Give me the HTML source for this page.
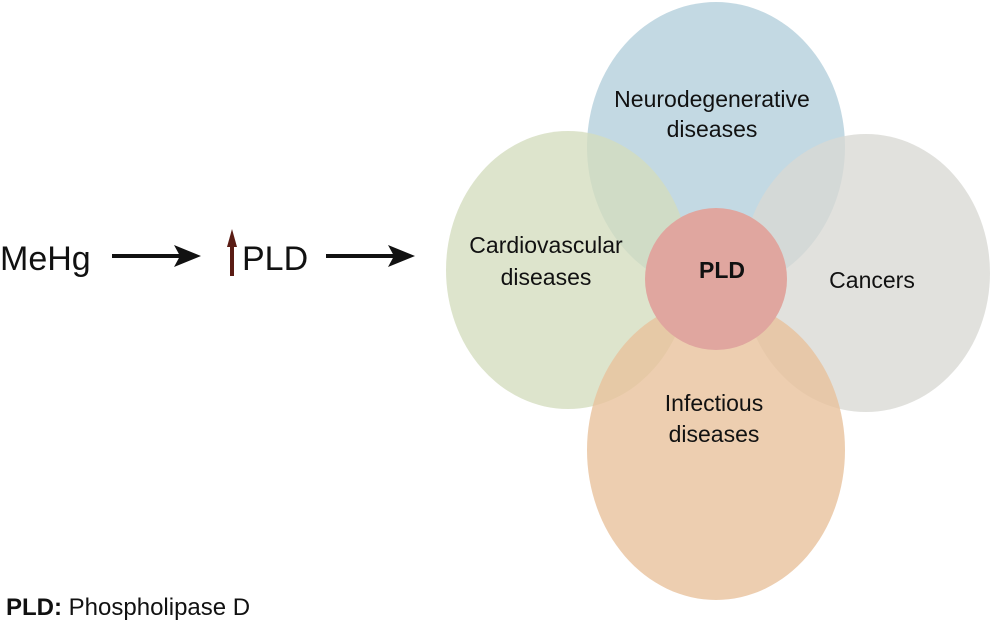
<!DOCTYPE html>
<html><head><meta charset="utf-8"><style>
body{margin:0;background:#fff;}
svg{display:block;font-family:"Liberation Sans",Arial,sans-serif;}
</style></head><body>
<svg width="991" height="628" viewBox="0 0 991 628" xmlns="http://www.w3.org/2000/svg">
<ellipse cx="716" cy="147" rx="129" ry="145" fill="#b9d2de" opacity="0.85"/>
<ellipse cx="568" cy="270" rx="122" ry="139" fill="#d3dcbe" opacity="0.78"/>
<ellipse cx="866" cy="273" rx="124" ry="139" fill="#d9d8d3" opacity="0.78"/>
<ellipse cx="716" cy="450" rx="129" ry="150" fill="#e8c29c" opacity="0.8"/>
<circle cx="716" cy="279" r="71" fill="#e0a69f"/>
<g font-size="23" fill="#111" text-anchor="middle">
<text x="712" y="107">Neurodegenerative</text>
<text x="712" y="137">diseases</text>
<text x="546" y="253">Cardiovascular</text>
<text x="546" y="285">diseases</text>
<text x="872" y="288">Cancers</text>
<text x="714" y="411">Infectious</text>
<text x="714" y="442">diseases</text>
<text x="722" y="278" font-weight="bold">PLD</text>
</g>
<text x="0" y="270" font-size="34" fill="#111">MeHg</text>
<text x="242" y="270" font-size="34" fill="#111">PLD</text>
<g stroke="#111" stroke-width="4">
<line x1="112" y1="256" x2="190" y2="256"/>
<line x1="326" y1="256" x2="404" y2="256"/>
</g>
<polygon points="201,256 174,245 180,256 174,267" fill="#111"/>
<polygon points="415,256 388,245 394,256 388,267" fill="#111"/>
<line x1="232" y1="244" x2="232" y2="276" stroke="#5a1c14" stroke-width="4"/>
<polygon points="232,229 227,247 237,247" fill="#5a1c14"/>
<text x="6" y="615" font-size="24" fill="#111"><tspan font-weight="bold">PLD:</tspan> Phospholipase D</text>
</svg>
</body></html>
